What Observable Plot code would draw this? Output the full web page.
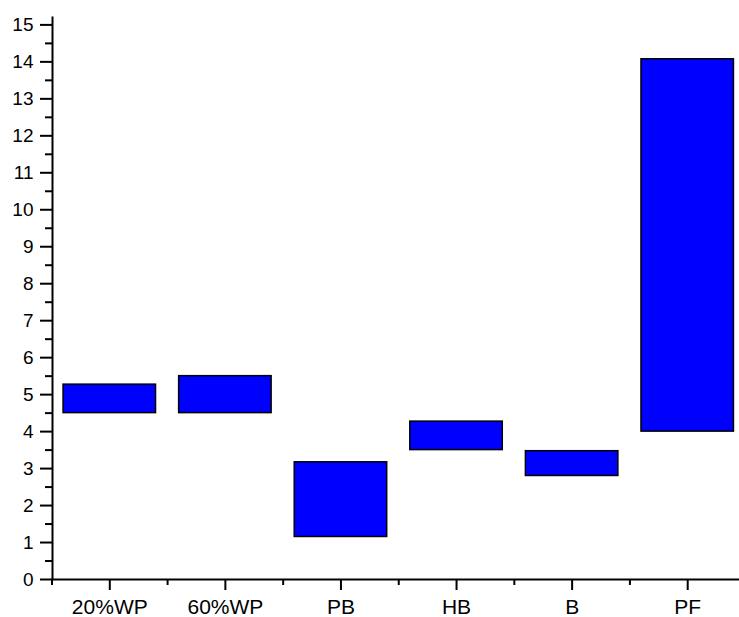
<!DOCTYPE html>
<html>
<head>
<meta charset="utf-8">
<script src="https://cdn.jsdelivr.net/npm/d3@7"></script>
<script src="https://cdn.jsdelivr.net/npm/@observablehq/plot@0.6"></script>
<style>
  html, body { margin: 0; padding: 0; background: white; overflow: hidden; }
</style>
</head>
<body>
<div id="chart"></div>
<script>
const categories = ["20%WP", "60%WP", "PB", "HB", "B", "PF"];
const lows  = [4.5, 4.5, 1.15, 3.5, 2.8, 4.0];
const highs = [5.27, 5.5, 3.17, 4.27, 3.47, 14.07];
const yMajor = d3.range(0, 16, 1);
const yMinor = d3.range(0.5, 15, 1);
const xMajor = d3.range(0, categories.length);
const xMinor = d3.range(-0.5, categories.length, 1);

const data = categories.map((c, i) => ({i, c, lo: lows[i], hi: highs[i]}));

const chart = Plot.plot({
  width: 739,
  height: 617,
  marginLeft: 52,
  marginRight: 0,
  marginTop: 17,
  marginBottom: 38,
  style: {fontFamily: "'Liberation Sans', Arial, sans-serif", color: "black", background: "white", overflow: "hidden"},
  x: {domain: [-0.5, 5.5], range: [51.5, 745]},
  y: {domain: [0, 15.2], range: [579, 17]},
  marks: [
    Plot.rect(data, {x1: d => d.i - 0.4, x2: d => d.i + 0.4, y1: "lo", y2: "hi", fill: "#0000ff", stroke: "black", strokeWidth: 1.5}),
    Plot.axisY({ticks: yMinor, tickSize: 7, tickFormat: () => "", strokeWidth: 2}),
    Plot.axisY({ticks: yMajor, tickSize: 12, tickPadding: 7, fontSize: 19, tickFormat: d => String(d), strokeWidth: 2, label: null}),
    Plot.axisX({ticks: xMinor, tickSize: 6, tickFormat: () => "", strokeWidth: 2}),
    Plot.axisX({ticks: xMajor, tickSize: 11, tickPadding: 9, fontSize: 21, tickFormat: i => categories[i], strokeWidth: 2, label: null}),
    Plot.frame({anchor: "left", strokeWidth: 2}),
    Plot.frame({anchor: "bottom", strokeWidth: 2})
  ]
});
document.getElementById("chart").appendChild(chart);
</script>
</body>
</html>
